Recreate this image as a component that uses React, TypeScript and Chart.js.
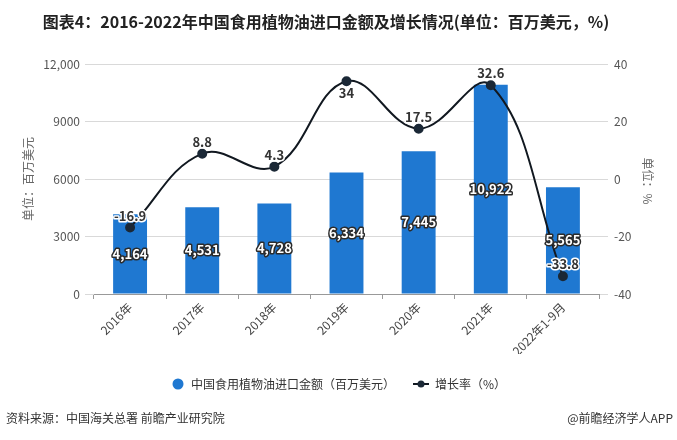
import React, { useEffect, useRef } from "react";
import { Chart, registerables } from "chart.js";

Chart.register(...registerables);

const categories = ["2016年", "2017年", "2018年", "2019年", "2020年", "2021年", "2022年1-9月"];
const importValues = [4164, 4531, 4728, 6334, 7445, 10922, 5565];
const growthRates = [-16.9, 8.8, 4.3, 34, 17.5, 32.6, -33.8];
const leftTicks = [0, 3000, 6000, 9000, 12000];
const rightTicks = [-40, -20, 0, 20, 40];
// label placed below the point (1) or above (-1)
const growthLabelSide = [-1, -1, -1, 1, -1, -1, -1];

const TITLE = "图表4：2016-2022年中国食用植物油进口金额及增长情况(单位：百万美元，%)";
const BAR_NAME = "中国食用植物油进口金额（百万美元）";
const LINE_NAME = "增长率（%）";
const LEFT_UNIT = "单位：百万美元";
const RIGHT_UNIT = "单位：%";
const SOURCE = "资料来源：中国海关总署 前瞻产业研究院";
const BRAND = "@前瞻经济学人APP";

const FONT = '"Noto Sans CJK SC", "Noto Sans", sans-serif';
const BAR_COLOR = "#1f78d1";
const LINE_COLOR = "#111820";
const POINT_COLOR = "#1b2836";

const fmt = (v: number) => (v >= 10000 ? v.toLocaleString("en-US") : String(v));

const decorPlugin = {
  id: "decor",
  afterDatasetsDraw(chart: any) {
    const ctx = chart.ctx;
    ctx.save();
    ctx.textAlign = "center";
    ctx.textBaseline = "middle";
    ctx.lineJoin = "round";
    // bar labels
    const barMeta = chart.getDatasetMeta(1);
    ctx.font = `bold 13px ${FONT}`;
    barMeta.data.forEach((el: any, i: number) => {
      const y = (el.y + el.base) / 2;
      const t = importValues[i].toLocaleString("en-US");
      ctx.lineWidth = 3;
      ctx.strokeStyle = "#2b2b2b";
      ctx.strokeText(t, el.x, y);
      ctx.fillStyle = "#ffffff";
      ctx.fillText(t, el.x, y);
    });
    // line labels
    const lineMeta = chart.getDatasetMeta(0);
    lineMeta.data.forEach((el: any, i: number) => {
      const y = el.y + growthLabelSide[i] * 12;
      const t = String(growthRates[i]);
      ctx.lineWidth = 3;
      ctx.strokeStyle = "#ffffff";
      ctx.strokeText(t, el.x, y);
      ctx.fillStyle = "#333333";
      ctx.fillText(t, el.x, y);
    });
    ctx.restore();
  },
  afterDraw(chart: any) {
    const ctx = chart.ctx;
    const area = chart.chartArea;
    ctx.save();
    // title
    ctx.fillStyle = "#222222";
    ctx.font = `bold 16px ${FONT}`;
    ctx.textAlign = "center";
    ctx.textBaseline = "middle";
    ctx.fillText(TITLE, 326, 22);
    // axis units
    const cy = (area.top + area.bottom) / 2;
    ctx.font = `12px ${FONT}`;
    ctx.fillStyle = "#666666";
    ctx.save();
    ctx.translate(28, cy);
    ctx.rotate(-Math.PI / 2);
    ctx.fillText(LEFT_UNIT, 0, 0);
    ctx.restore();
    ctx.save();
    ctx.translate(648, cy + 2);
    ctx.rotate(Math.PI / 2);
    ctx.fillText(RIGHT_UNIT, 0, 0);
    ctx.restore();
    // legend
    const ly = 384;
    ctx.fillStyle = BAR_COLOR;
    ctx.beginPath();
    ctx.arc(178, ly, 5.5, 0, Math.PI * 2);
    ctx.fill();
    ctx.fillStyle = "#333333";
    ctx.textAlign = "left";
    ctx.font = `12px ${FONT}`;
    ctx.fillText(BAR_NAME, 191, ly);
    ctx.strokeStyle = LINE_COLOR;
    ctx.lineWidth = 2;
    ctx.beginPath();
    ctx.moveTo(413, ly);
    ctx.lineTo(429, ly);
    ctx.stroke();
    ctx.fillStyle = POINT_COLOR;
    ctx.beginPath();
    ctx.arc(421, ly, 3.5, 0, Math.PI * 2);
    ctx.fill();
    ctx.fillStyle = "#333333";
    ctx.fillText(LINE_NAME, 435, ly);
    // footer
    ctx.font = `12px ${FONT}`;
    ctx.fillStyle = "#333333";
    ctx.fillText(SOURCE, 6, 418);
    ctx.textAlign = "right";
    ctx.fillText(BRAND, 673, 418);
    ctx.restore();
  },
};

export default function App() {
  const ref = useRef<HTMLCanvasElement | null>(null);
  useEffect(() => {
    document.body.style.margin = "0";
    const canvas = ref.current;
    if (!canvas) return;
    const chart = new Chart(canvas, {
      type: "bar",
      data: {
        labels: categories,
        datasets: [
          {
            type: "line",
            label: LINE_NAME,
            data: growthRates,
            yAxisID: "y1",
            borderColor: LINE_COLOR,
            borderWidth: 2,
            backgroundColor: POINT_COLOR,
            pointBackgroundColor: POINT_COLOR,
            pointBorderColor: POINT_COLOR,
            pointRadius: 4,
            tension: 0.4,
            order: 0,
          } as any,
          {
            type: "bar",
            label: BAR_NAME,
            data: importValues,
            yAxisID: "y",
            backgroundColor: BAR_COLOR,
            categoryPercentage: 0.94,
            barPercentage: 0.5,
            order: 1,
          },
        ],
      },
      options: {
        responsive: false,
        animation: false,
        devicePixelRatio: 1,
        layout: { padding: { top: 64, bottom: 86, left: 0, right: 0 } },
        plugins: {
          legend: { display: false },
          title: { display: false },
          tooltip: { enabled: false },
        },
        scales: {
          x: {
            grid: {
              display: true,
              drawOnChartArea: false,
              drawTicks: true,
              tickLength: 5,
              color: "#999999",
            },
            border: { display: true, color: "#999999", width: 1 },
            ticks: {
              color: "#444444",
              font: { size: 12, family: FONT },
              minRotation: 45,
              maxRotation: 45,
              padding: 1,
            },
            afterFit(scale: any) {
              scale.height = 60;
            },
          },
          y: {
            position: "left",
            min: 0,
            max: 12000,
            afterBuildTicks(scale: any) {
              scale.ticks = leftTicks.map((v) => ({ value: v }));
            },
            grid: {
              color: "#d9d9d9",
              drawTicks: true,
              tickLength: 9,
            },
            border: { display: false },
            ticks: {
              color: "#555555",
              font: { size: 12, family: FONT },
              padding: 5,
              callback: (v: any) => fmt(Number(v)),
            },
            afterFit(scale: any) {
              scale.width = 94;
            },
          },
          y1: {
            position: "right",
            min: -40,
            max: 40,
            afterBuildTicks(scale: any) {
              scale.ticks = rightTicks.map((v) => ({ value: v }));
            },
            grid: {
              color: "#d9d9d9",
              drawOnChartArea: false,
              drawTicks: true,
              tickLength: 9,
            },
            border: { display: false },
            ticks: {
              color: "#555555",
              font: { size: 12, family: FONT },
              padding: 6,
            },
            afterFit(scale: any) {
              scale.width = 78;
            },
          },
        },
      },
      plugins: [decorPlugin],
    });
    return () => chart.destroy();
  }, []);
  return (
    <div style={{ width: 677, height: 440, background: "#ffffff" }}>
      <canvas ref={ref} width={677} height={440} style={{ display: "block" }} />
    </div>
  );
}
